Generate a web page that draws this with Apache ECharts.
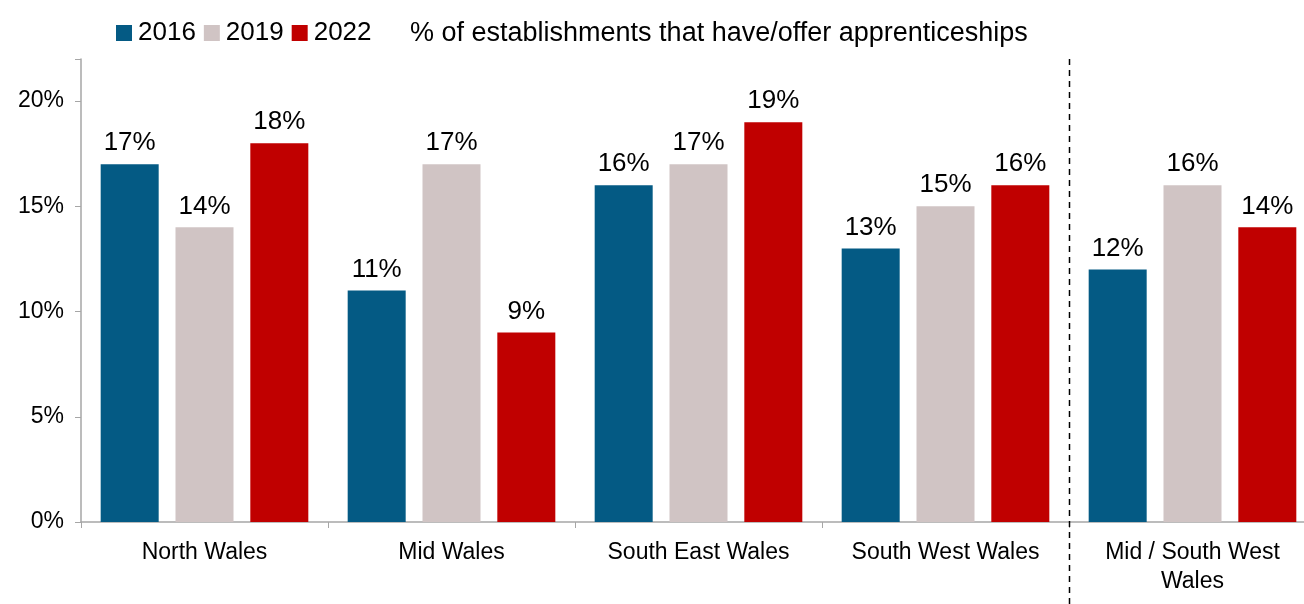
<!DOCTYPE html>
<html>
<head>
<meta charset="utf-8">
<script src="https://cdn.jsdelivr.net/npm/echarts@6/dist/echarts.min.js"></script>
<style>
  html, body { margin: 0; padding: 0; background: #fff; overflow: hidden; }
  #chart { width: 1316px; height: 604px; }
</style>
</head>
<body>
<div id="chart"></div>
<script>
// Share of establishments that have/offer apprenticeships, by region and survey year
const regions = ['North Wales', 'Mid Wales', 'South East Wales', 'South West Wales', 'Mid / South West\nWales'];
const years = ['2016', '2019', '2022'];
const values2016 = [17, 11, 16, 13, 12];
const values2019 = [14, 17, 17, 15, 16];
const values2022 = [18, 9, 19, 16, 14];
const yTicks = [0, 5, 10, 15, 20];
const colors = ['#045A84', '#D0C4C4', '#C00000'];
const FONT = '"Liberation Sans", Arial, sans-serif';

const seriesValues = [values2016, values2019, values2022];

const chart = echarts.init(document.getElementById('chart'), null, { renderer: 'canvas' });

const option = {
  animation: false,
  textStyle: { fontFamily: FONT, color: '#000' },
  title: {
    text: '% of establishments that have/offer apprenticeships',
    left: 405,
    top: 15,
    textStyle: { fontFamily: FONT, fontSize: 27, fontWeight: 'normal', color: '#000' }
  },
  legend: {
    data: years,
    left: 111,
    top: 15,
    icon: 'rect',
    itemWidth: 16,
    itemHeight: 16,
    itemGap: 8,
    textStyle: { fontFamily: FONT, fontSize: 26, color: '#000', padding: [0, 0, 0, 1] }
  },
  grid: { left: 81, right: 0, top: 59, bottom: 82, containLabel: false },
  xAxis: {
    type: 'category',
    data: regions,
    axisLine: { lineStyle: { color: '#A6A6A6', width: 1.5 } },
    axisTick: { show: true, length: 6, alignWithLabel: false, lineStyle: { color: '#A6A6A6' } },
    axisLabel: { fontFamily: FONT, fontSize: 23, color: '#000', margin: 16, lineHeight: 29, interval: 0 }
  },
  yAxis: {
    type: 'value',
    min: 0,
    max: 22,
    interval: 5,
    axisLine: { show: true, lineStyle: { color: '#A6A6A6', width: 1.5 } },
    axisTick: { show: true, length: 6, lineStyle: { color: '#A6A6A6' } },
    splitLine: { show: false },
    axisLabel: {
      fontFamily: FONT, fontSize: 23, color: '#000', margin: 17,
      formatter: v => (yTicks.includes(v) ? v + '%' : '')
    }
  },
  series: years.map((y, i) => ({
    name: y,
    type: 'bar',
    data: seriesValues[i],
    barWidth: 58,
    barGap: '29%',
    itemStyle: { color: colors[i] },
    label: {
      show: true,
      position: 'top',
      distance: 8,
      fontFamily: FONT,
      fontSize: 26,
      color: '#000',
      formatter: p => p.value + '%'
    }
  }))
};

chart.setOption(option);

// Dashed separator between the four regions and the combined Mid / South West group
const xA = chart.convertToPixel({ xAxisIndex: 0 }, 3);
const xB = chart.convertToPixel({ xAxisIndex: 0 }, 4);
const sepX = Math.round((xA + xB) / 2) + 0.5;
const topY = chart.convertToPixel({ yAxisIndex: 0 }, 22);
chart.setOption({
  graphic: [{
    type: 'line',
    shape: { x1: sepX, y1: topY, x2: sepX, y2: chart.getHeight() },
    style: { stroke: '#000', lineWidth: 1.5, lineDash: [6, 5] },
    z: 10
  }]
});
</script>
</body>
</html>
